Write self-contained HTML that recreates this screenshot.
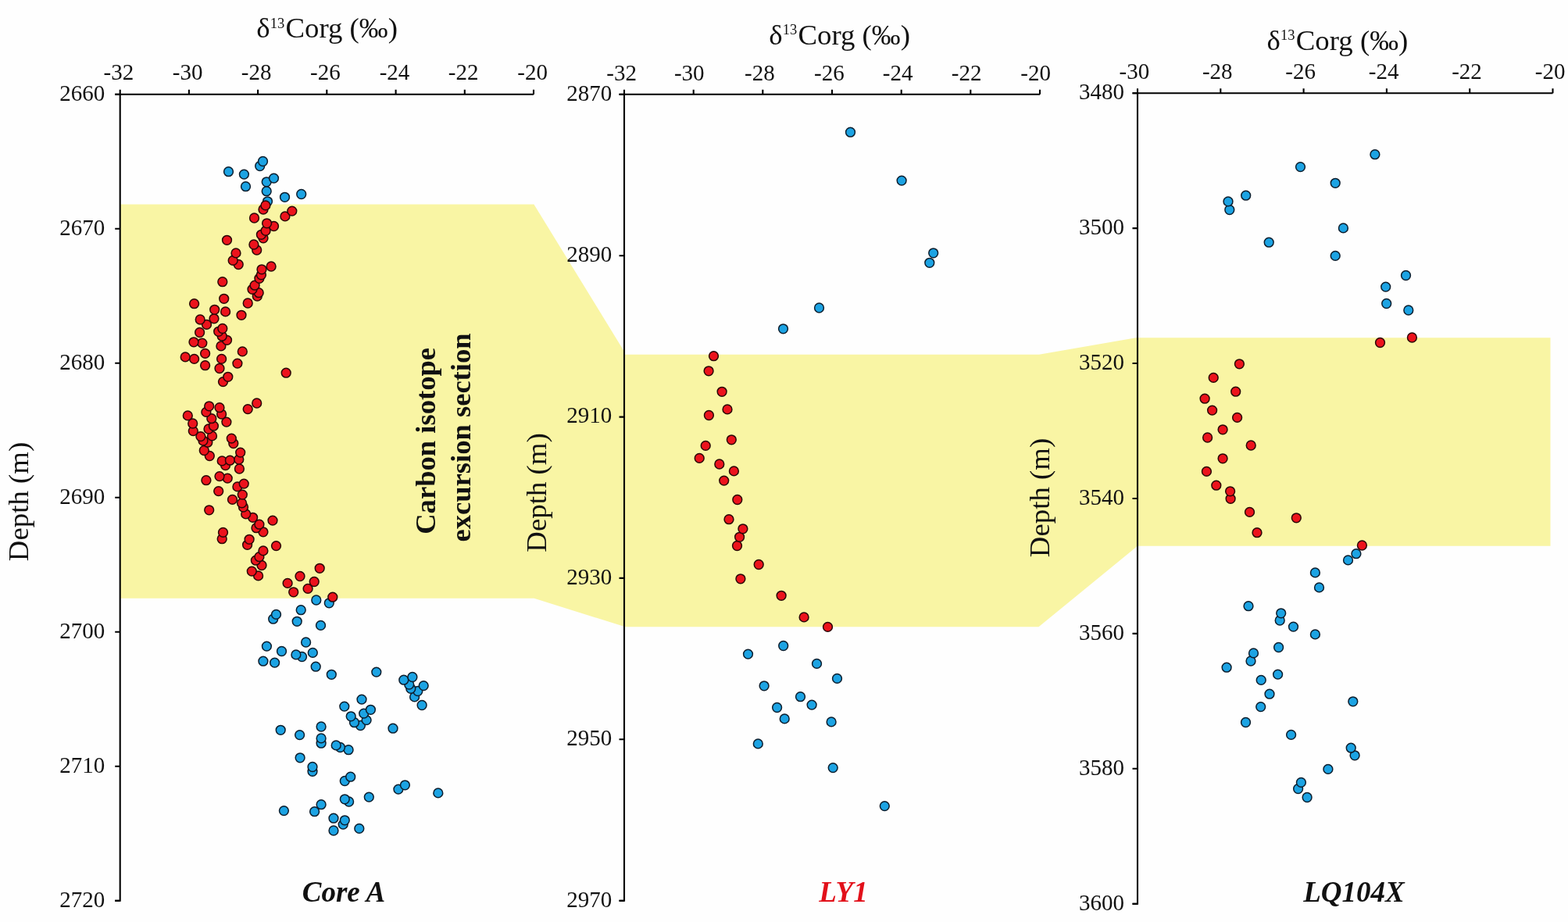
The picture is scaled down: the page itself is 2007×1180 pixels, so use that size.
<!DOCTYPE html>
<html><head><meta charset="utf-8"><title>Carbon isotope excursion</title><style>html,body{margin:0;padding:0;background:#fefefe;width:2007px;height:1180px;overflow:hidden}
svg{display:block}
text{font-family:"Liberation Serif","Times New Roman",serif;fill:#111}
.t{font-size:29px}
.ti{font-size:36.8px}
.sup{font-size:18.5px}
.nm{font-size:37px;font-weight:bold;font-style:italic}
.bt{font-size:36.6px;font-weight:bold}
</style></head><body>
<svg width="2007" height="1180" viewBox="0 0 2007 1180">
<rect width="2007" height="1180" fill="#fefefe"/>
<polygon fill="#f9f5a4" points="153.7,261.4 683.4,261.4 798,448.2 799,453.7 1330,453.7 1454,432.2 1984.5,432.2 1984.5,698.8 1455,698.8 1454.2,700.3 1329.5,802.3 799,802.3 797.1,801.3 683.7,765.8 153.7,765.8"/>
<path d="M147.2 120.8H683.0M153.7 120.8V1152.7H147.2" fill="none" stroke="#000" stroke-width="2.1"/>
<path d="M153.7 120.8V114.8M241.9 120.8V114.8M330.1 120.8V114.8M418.3 120.8V114.8M506.6 120.8V114.8M594.8 120.8V114.8M683.0 120.8V114.8M153.7 120.8H147.2M153.7 292.8H147.2M153.7 464.8H147.2M153.7 636.8H147.2M153.7 808.7H147.2M153.7 980.7H147.2M153.7 1152.7H147.2" fill="none" stroke="#000" stroke-width="2.1"/>
<text class="t" x="151.9" y="102.4" text-anchor="middle">-32</text>
<text class="t" x="240.2" y="102.4" text-anchor="middle">-30</text>
<text class="t" x="328.1" y="102.4" text-anchor="middle">-28</text>
<text class="t" x="416.4" y="102.4" text-anchor="middle">-26</text>
<text class="t" x="505.0" y="102.4" text-anchor="middle">-24</text>
<text class="t" x="593.2" y="102.4" text-anchor="middle">-22</text>
<text class="t" x="681.7" y="102.4" text-anchor="middle">-20</text>
<text class="t" x="134.2" y="128.6" text-anchor="end">2660</text>
<text class="t" x="134.2" y="300.6" text-anchor="end">2670</text>
<text class="t" x="134.2" y="472.6" text-anchor="end">2680</text>
<text class="t" x="134.2" y="644.5" text-anchor="end">2690</text>
<text class="t" x="134.2" y="816.5" text-anchor="end">2700</text>
<text class="t" x="134.2" y="988.5" text-anchor="end">2710</text>
<text class="t" x="134.2" y="1160.5" text-anchor="end">2720</text>
<text class="ti" x="418.6" y="48.4" text-anchor="middle">δ<tspan class="sup" dy="-12.5">13</tspan><tspan dy="12.5" dx="1.3">Corg (‰)</tspan></text>
<text class="ti" transform="translate(36,642) rotate(-90)" text-anchor="middle">Depth (m)</text>
<text class="nm" x="440" y="1154" text-anchor="middle" style="fill:#111">Core A</text>
<path d="M792.5 120.8H1331.0M799.0 120.8V1152.7H792.5" fill="none" stroke="#000" stroke-width="2.1"/>
<path d="M799.0 120.8V114.8M887.7 120.8V114.8M976.3 120.8V114.8M1065.0 120.8V114.8M1153.7 120.8V114.8M1242.3 120.8V114.8M1331.0 120.8V114.8M799.0 120.8H792.5M799.0 327.2H792.5M799.0 533.6H792.5M799.0 739.9H792.5M799.0 946.3H792.5M799.0 1152.7H792.5" fill="none" stroke="#000" stroke-width="2.1"/>
<text class="t" x="795.6" y="102.5" text-anchor="middle">-32</text>
<text class="t" x="882.3" y="102.5" text-anchor="middle">-30</text>
<text class="t" x="972.4" y="102.5" text-anchor="middle">-28</text>
<text class="t" x="1061.4" y="102.5" text-anchor="middle">-26</text>
<text class="t" x="1149.2" y="102.5" text-anchor="middle">-24</text>
<text class="t" x="1237.2" y="102.5" text-anchor="middle">-22</text>
<text class="t" x="1325.7" y="102.5" text-anchor="middle">-20</text>
<text class="t" x="783.2" y="128.6" text-anchor="end">2870</text>
<text class="t" x="783.2" y="335.0" text-anchor="end">2890</text>
<text class="t" x="783.2" y="541.4" text-anchor="end">2910</text>
<text class="t" x="783.2" y="747.7" text-anchor="end">2930</text>
<text class="t" x="783.2" y="954.1" text-anchor="end">2950</text>
<text class="t" x="783.2" y="1160.5" text-anchor="end">2970</text>
<text class="ti" x="1074.6" y="56.6" text-anchor="middle">δ<tspan class="sup" dy="-12.5">13</tspan><tspan dy="12.5" dx="1.3">Corg (‰)</tspan></text>
<text class="ti" transform="translate(699,630.5) rotate(-90)" text-anchor="middle">Depth (m)</text>
<text class="nm" x="1079.5" y="1154" text-anchor="middle" style="fill:#e2101a">LY1</text>
<path d="M1449.5 119.2H1987.5M1456.0 119.2V1156.7H1449.5" fill="none" stroke="#000" stroke-width="2.1"/>
<path d="M1456.0 119.2V113.2M1562.3 119.2V113.2M1668.6 119.2V113.2M1774.9 119.2V113.2M1881.2 119.2V113.2M1987.5 119.2V113.2M1456.0 119.2H1449.5M1456.0 292.1H1449.5M1456.0 465.0H1449.5M1456.0 638.0H1449.5M1456.0 810.9H1449.5M1456.0 983.8H1449.5M1456.0 1156.7H1449.5" fill="none" stroke="#000" stroke-width="2.1"/>
<text class="t" x="1451.9" y="101.4" text-anchor="middle">-30</text>
<text class="t" x="1558.3" y="101.4" text-anchor="middle">-28</text>
<text class="t" x="1664.6" y="101.4" text-anchor="middle">-26</text>
<text class="t" x="1771.1" y="101.4" text-anchor="middle">-24</text>
<text class="t" x="1877.5" y="101.4" text-anchor="middle">-22</text>
<text class="t" x="1984.2" y="101.4" text-anchor="middle">-20</text>
<text class="t" x="1438.9" y="127.0" text-anchor="end">3480</text>
<text class="t" x="1438.9" y="299.9" text-anchor="end">3500</text>
<text class="t" x="1438.9" y="472.8" text-anchor="end">3520</text>
<text class="t" x="1438.9" y="645.8" text-anchor="end">3540</text>
<text class="t" x="1438.9" y="818.7" text-anchor="end">3560</text>
<text class="t" x="1438.9" y="991.6" text-anchor="end">3580</text>
<text class="t" x="1438.9" y="1164.5" text-anchor="end">3600</text>
<text class="ti" x="1711.9" y="63.8" text-anchor="middle">δ<tspan class="sup" dy="-12.5">13</tspan><tspan dy="12.5" dx="1.3">Corg (‰)</tspan></text>
<text class="ti" transform="translate(1343,637) rotate(-90)" text-anchor="middle">Depth (m)</text>
<text class="nm" x="1733" y="1154" text-anchor="middle" style="fill:#111">LQ104X</text>
<text class="bt" transform="translate(557.2,564.4) rotate(-90)" text-anchor="middle">Carbon isotope</text>
<text class="bt" transform="translate(601.6,560) rotate(-90)" text-anchor="middle">excursion section</text>
<g fill="#1ca3e3" stroke="#0c1e2e" stroke-width="1.5"><circle cx="427" cy="1063" r="5.9"/><circle cx="459.8" cy="1060.4" r="5.9"/><circle cx="439.2" cy="1055.1" r="5.9"/><circle cx="441.3" cy="1049.8" r="5.9"/><circle cx="427" cy="1047.2" r="5.9"/><circle cx="402.6" cy="1038.7" r="5.9"/><circle cx="363.4" cy="1037.6" r="5.9"/><circle cx="411.1" cy="1029.7" r="5.9"/><circle cx="446.6" cy="1026" r="5.9"/><circle cx="441.3" cy="1022.8" r="5.9"/><circle cx="472.3" cy="1020.1" r="5.9"/><circle cx="560.8" cy="1014.9" r="5.9"/><circle cx="509.9" cy="1010.1" r="5.9"/><circle cx="518.4" cy="1004.8" r="5.9"/><circle cx="441.3" cy="999.5" r="5.9"/><circle cx="448.7" cy="994.2" r="5.9"/><circle cx="400" cy="987.3" r="5.9"/><circle cx="400" cy="981.5" r="5.9"/><circle cx="384.1" cy="969.8" r="5.9"/><circle cx="446.1" cy="959.7" r="5.9"/><circle cx="435.5" cy="956.5" r="5.9"/><circle cx="430.2" cy="953.9" r="5.9"/><circle cx="411.1" cy="951.2" r="5.9"/><circle cx="411.1" cy="944.9" r="5.9"/><circle cx="383.6" cy="940.6" r="5.9"/><circle cx="359.2" cy="934.3" r="5.9"/><circle cx="503" cy="932.2" r="5.9"/><circle cx="411.1" cy="930" r="5.9"/><circle cx="461.4" cy="928.5" r="5.9"/><circle cx="453.5" cy="924.7" r="5.9"/><circle cx="469.1" cy="921.6" r="5.9"/><circle cx="449.2" cy="916.8" r="5.9"/><circle cx="465.7" cy="913.1" r="5.9"/><circle cx="474.4" cy="908.3" r="5.9"/><circle cx="440.8" cy="904.1" r="5.9"/><circle cx="540.1" cy="902.5" r="5.9"/><circle cx="463" cy="895.1" r="5.9"/><circle cx="530.6" cy="891.9" r="5.9"/><circle cx="534.8" cy="884.5" r="5.9"/><circle cx="525.8" cy="881.3" r="5.9"/><circle cx="542.2" cy="877.6" r="5.9"/><circle cx="523.7" cy="876" r="5.9"/><circle cx="516.8" cy="870.2" r="5.9"/><circle cx="527.9" cy="866.5" r="5.9"/><circle cx="424.3" cy="863.3" r="5.9"/><circle cx="481.8" cy="860.1" r="5.9"/><circle cx="404.2" cy="853.2" r="5.9"/><circle cx="351.6" cy="848.1" r="5.9"/><circle cx="336.9" cy="846.2" r="5.9"/><circle cx="386.5" cy="840.5" r="5.9"/><circle cx="378.9" cy="837.9" r="5.9"/><circle cx="400.3" cy="835.4" r="5.9"/><circle cx="360.5" cy="833.5" r="5.9"/><circle cx="341.4" cy="827.1" r="5.9"/><circle cx="391.6" cy="822" r="5.9"/><circle cx="410.5" cy="800.4" r="5.9"/><circle cx="380.2" cy="795.3" r="5.9"/><circle cx="349.7" cy="792.2" r="5.9"/><circle cx="353.5" cy="786.4" r="5.9"/><circle cx="385.2" cy="780.7" r="5.9"/><circle cx="421.3" cy="771.8" r="5.9"/><circle cx="404.8" cy="768" r="5.9"/><circle cx="342.5" cy="257.8" r="5.9"/><circle cx="364.5" cy="252.3" r="5.9"/><circle cx="385.7" cy="248.5" r="5.9"/><circle cx="341.2" cy="244.7" r="5.9"/><circle cx="314.5" cy="238.7" r="5.9"/><circle cx="341.2" cy="232.8" r="5.9"/><circle cx="350.5" cy="228.1" r="5.9"/><circle cx="312.4" cy="223.1" r="5.9"/><circle cx="292.5" cy="219.7" r="5.9"/><circle cx="332.7" cy="212.5" r="5.9"/><circle cx="336.5" cy="206.5" r="5.9"/></g>
<g fill="#ec131c" stroke="#2a0707" stroke-width="1.5"><circle cx="425.8" cy="764.2" r="5.9"/><circle cx="375.7" cy="757.8" r="5.9"/><circle cx="394.1" cy="753.4" r="5.9"/><circle cx="368.1" cy="746.4" r="5.9"/><circle cx="402.2" cy="744.5" r="5.9"/><circle cx="384" cy="737.5" r="5.9"/><circle cx="330.6" cy="736.9" r="5.9"/><circle cx="322.3" cy="731.1" r="5.9"/><circle cx="409.2" cy="727.3" r="5.9"/><circle cx="335" cy="723.5" r="5.9"/><circle cx="327.4" cy="717.2" r="5.9"/><circle cx="331.9" cy="712.7" r="5.9"/><circle cx="336.9" cy="704.9" r="5.9"/><circle cx="353.5" cy="698.6" r="5.9"/><circle cx="316.6" cy="697.3" r="5.9"/><circle cx="319.1" cy="690.3" r="5.9"/><circle cx="284.2" cy="689.7" r="5.9"/><circle cx="285.5" cy="681.4" r="5.9"/><circle cx="336.9" cy="680.8" r="5.9"/><circle cx="328" cy="675.7" r="5.9"/><circle cx="331.9" cy="671.2" r="5.9"/><circle cx="349" cy="666.1" r="5.9"/><circle cx="323.6" cy="662.3" r="5.9"/><circle cx="314.7" cy="657.9" r="5.9"/><circle cx="267.7" cy="652.8" r="5.9"/><circle cx="311.5" cy="649" r="5.9"/><circle cx="309.6" cy="643.9" r="5.9"/><circle cx="297.5" cy="639.4" r="5.9"/><circle cx="310.3" cy="633.1" r="5.9"/><circle cx="279.7" cy="628.6" r="5.9"/><circle cx="303.9" cy="622.9" r="5.9"/><circle cx="312.2" cy="619.1" r="5.9"/><circle cx="263.9" cy="614.7" r="5.9"/><circle cx="291.2" cy="612.1" r="5.9"/><circle cx="281" cy="609.6" r="5.9"/><circle cx="306.4" cy="600" r="5.9"/><circle cx="288.6" cy="595.6" r="5.9"/><circle cx="284.2" cy="589.9" r="5.9"/><circle cx="294.4" cy="589.2" r="5.9"/><circle cx="305.8" cy="588" r="5.9"/><circle cx="268.3" cy="583.5" r="5.9"/><circle cx="307.7" cy="579.1" r="5.9"/><circle cx="261.3" cy="576.5" r="5.9"/><circle cx="298.8" cy="567.5" r="5.9"/><circle cx="265.8" cy="566.2" r="5.9"/><circle cx="260" cy="564" r="5.9"/><circle cx="296.3" cy="561.1" r="5.9"/><circle cx="256.9" cy="558.6" r="5.9"/><circle cx="271.5" cy="557.9" r="5.9"/><circle cx="247.3" cy="551.6" r="5.9"/><circle cx="267" cy="549" r="5.9"/><circle cx="273.4" cy="545.2" r="5.9"/><circle cx="246.7" cy="542" r="5.9"/><circle cx="289.9" cy="540.1" r="5.9"/><circle cx="270.8" cy="535.7" r="5.9"/><circle cx="240.3" cy="531.9" r="5.9"/><circle cx="283.6" cy="530" r="5.9"/><circle cx="263.9" cy="527.4" r="5.9"/><circle cx="317.2" cy="523.6" r="5.9"/><circle cx="281" cy="521.7" r="5.9"/><circle cx="267.7" cy="519.8" r="5.9"/><circle cx="328.7" cy="516" r="5.9"/><circle cx="285.5" cy="488.6" r="5.9"/><circle cx="291.8" cy="482.3" r="5.9"/><circle cx="366.2" cy="477.2" r="5.9"/><circle cx="281" cy="471.5" r="5.9"/><circle cx="262.6" cy="467.7" r="5.9"/><circle cx="303.9" cy="465.1" r="5.9"/><circle cx="248.6" cy="459.4" r="5.9"/><circle cx="283.6" cy="459.4" r="5.9"/><circle cx="237.2" cy="456.9" r="5.9"/><circle cx="262.6" cy="452.4" r="5.9"/><circle cx="310.3" cy="449.9" r="5.9"/><circle cx="282.9" cy="442.9" r="5.9"/><circle cx="258.8" cy="439.1" r="5.9"/><circle cx="248" cy="437.8" r="5.9"/><circle cx="290.5" cy="435.3" r="5.9"/><circle cx="284.2" cy="430.2" r="5.9"/><circle cx="255.6" cy="425.5" r="5.9"/><circle cx="279.7" cy="424.3" r="5.9"/><circle cx="284.8" cy="420.5" r="5.9"/><circle cx="264.5" cy="415.4" r="5.9"/><circle cx="256.2" cy="409" r="5.9"/><circle cx="274" cy="407.8" r="5.9"/><circle cx="309" cy="403.3" r="5.9"/><circle cx="288.6" cy="398.9" r="5.9"/><circle cx="274.7" cy="396.3" r="5.9"/><circle cx="248.6" cy="388.7" r="5.9"/><circle cx="317.2" cy="388" r="5.9"/><circle cx="286.7" cy="382.3" r="5.9"/><circle cx="329.3" cy="379.1" r="5.9"/><circle cx="331.2" cy="374.7" r="5.9"/><circle cx="323" cy="370.3" r="5.9"/><circle cx="326.1" cy="365.2" r="5.9"/><circle cx="284.8" cy="360.7" r="5.9"/><circle cx="331.9" cy="356.3" r="5.9"/><circle cx="334.4" cy="351.8" r="5.9"/><circle cx="335" cy="344.8" r="5.9"/><circle cx="347.1" cy="341" r="5.9"/><circle cx="305.2" cy="338.5" r="5.9"/><circle cx="298.2" cy="333.4" r="5.9"/><circle cx="302" cy="323.9" r="5.9"/><circle cx="328.7" cy="320" r="5.9"/><circle cx="324.9" cy="313" r="5.9"/><circle cx="290.5" cy="307.3" r="5.9"/><circle cx="337" cy="304.8" r="5.9"/><circle cx="334.4" cy="300.3" r="5.9"/><circle cx="340.1" cy="295.3" r="5.9"/><circle cx="350.5" cy="289.5" r="5.9"/><circle cx="341.6" cy="285.8" r="5.9"/><circle cx="325.5" cy="279" r="5.9"/><circle cx="364.9" cy="276.9" r="5.9"/><circle cx="373.8" cy="270.1" r="5.9"/><circle cx="337" cy="268" r="5.9"/><circle cx="339.9" cy="262.9" r="5.9"/></g>
<g fill="#1ca3e3" stroke="#0c1e2e" stroke-width="1.5"><circle cx="1132.3" cy="1031.6" r="5.9"/><circle cx="1066.2" cy="982.6" r="5.9"/><circle cx="970.3" cy="951.9" r="5.9"/><circle cx="1064.1" cy="923.9" r="5.9"/><circle cx="1004.2" cy="919.9" r="5.9"/><circle cx="994.6" cy="905.5" r="5.9"/><circle cx="1039.1" cy="902.1" r="5.9"/><circle cx="1024.5" cy="891.7" r="5.9"/><circle cx="978.1" cy="877.8" r="5.9"/><circle cx="1071.5" cy="868.4" r="5.9"/><circle cx="1045.5" cy="849.4" r="5.9"/><circle cx="957.5" cy="837.1" r="5.9"/><circle cx="1002.7" cy="826.5" r="5.9"/><circle cx="1002.5" cy="420.8" r="5.9"/><circle cx="1048.5" cy="394" r="5.9"/><circle cx="1189.8" cy="336.3" r="5.9"/><circle cx="1194.7" cy="323.8" r="5.9"/><circle cx="1154.1" cy="231.1" r="5.9"/><circle cx="1088.5" cy="169.2" r="5.9"/></g>
<g fill="#ec131c" stroke="#2a0707" stroke-width="1.5"><circle cx="1059.5" cy="802.4" r="5.9"/><circle cx="1029.1" cy="789.9" r="5.9"/><circle cx="1000.1" cy="762.3" r="5.9"/><circle cx="947.9" cy="740.8" r="5.9"/><circle cx="971.2" cy="722.5" r="5.9"/><circle cx="943.5" cy="698.5" r="5.9"/><circle cx="946.6" cy="687.3" r="5.9"/><circle cx="950.9" cy="676.8" r="5.9"/><circle cx="933" cy="664.7" r="5.9"/><circle cx="943.8" cy="639.5" r="5.9"/><circle cx="926.7" cy="615.1" r="5.9"/><circle cx="939.4" cy="602.9" r="5.9"/><circle cx="920.8" cy="594" r="5.9"/><circle cx="895.2" cy="586.4" r="5.9"/><circle cx="903.2" cy="570.4" r="5.9"/><circle cx="936.3" cy="562.8" r="5.9"/><circle cx="907.4" cy="531.5" r="5.9"/><circle cx="931" cy="523.9" r="5.9"/><circle cx="924.1" cy="501.3" r="5.9"/><circle cx="907.1" cy="474.8" r="5.9"/><circle cx="913.5" cy="455.7" r="5.9"/></g>
<g fill="#1ca3e3" stroke="#0c1e2e" stroke-width="1.5"><circle cx="1673.1" cy="1020.5" r="5.9"/><circle cx="1661.6" cy="1009.5" r="5.9"/><circle cx="1665.4" cy="1001.4" r="5.9"/><circle cx="1699.9" cy="984.4" r="5.9"/><circle cx="1734.1" cy="966.8" r="5.9"/><circle cx="1729.2" cy="957.2" r="5.9"/><circle cx="1652.6" cy="940.4" r="5.9"/><circle cx="1594.5" cy="924.5" r="5.9"/><circle cx="1613.7" cy="904.6" r="5.9"/><circle cx="1731.8" cy="897.8" r="5.9"/><circle cx="1625" cy="888.2" r="5.9"/><circle cx="1614.2" cy="870.4" r="5.9"/><circle cx="1635.6" cy="863.1" r="5.9"/><circle cx="1570.1" cy="854.2" r="5.9"/><circle cx="1601" cy="846" r="5.9"/><circle cx="1604.5" cy="835.9" r="5.9"/><circle cx="1636.6" cy="828.5" r="5.9"/><circle cx="1683.4" cy="811.9" r="5.9"/><circle cx="1655.5" cy="802.1" r="5.9"/><circle cx="1638.2" cy="794" r="5.9"/><circle cx="1639.7" cy="784.8" r="5.9"/><circle cx="1598" cy="775.7" r="5.9"/><circle cx="1688.5" cy="751.9" r="5.9"/><circle cx="1683.4" cy="732.9" r="5.9"/><circle cx="1725.5" cy="716.9" r="5.9"/><circle cx="1735.9" cy="708.7" r="5.9"/><circle cx="1802.8" cy="397" r="5.9"/><circle cx="1774.7" cy="388.5" r="5.9"/><circle cx="1773.7" cy="367.1" r="5.9"/><circle cx="1799.5" cy="352.5" r="5.9"/><circle cx="1709.2" cy="327.4" r="5.9"/><circle cx="1624.2" cy="310.2" r="5.9"/><circle cx="1719.4" cy="291.9" r="5.9"/><circle cx="1573.8" cy="268.5" r="5.9"/><circle cx="1572" cy="257.9" r="5.9"/><circle cx="1594.7" cy="250.2" r="5.9"/><circle cx="1709.2" cy="234.3" r="5.9"/><circle cx="1664.5" cy="213.6" r="5.9"/><circle cx="1759.9" cy="197.7" r="5.9"/></g>
<g fill="#ec131c" stroke="#2a0707" stroke-width="1.5"><circle cx="1743.4" cy="698" r="5.9"/><circle cx="1609" cy="681.7" r="5.9"/><circle cx="1659.3" cy="662.8" r="5.9"/><circle cx="1599.5" cy="655.4" r="5.9"/><circle cx="1575.1" cy="638.3" r="5.9"/><circle cx="1574.6" cy="628.8" r="5.9"/><circle cx="1556.8" cy="621.2" r="5.9"/><circle cx="1544.4" cy="603.4" r="5.9"/><circle cx="1565.1" cy="586.8" r="5.9"/><circle cx="1601.2" cy="570" r="5.9"/><circle cx="1545.6" cy="560" r="5.9"/><circle cx="1565.1" cy="549.8" r="5.9"/><circle cx="1583.6" cy="534.4" r="5.9"/><circle cx="1551.6" cy="525.1" r="5.9"/><circle cx="1542.1" cy="510.2" r="5.9"/><circle cx="1581.7" cy="501.2" r="5.9"/><circle cx="1553.2" cy="483.4" r="5.9"/><circle cx="1586.4" cy="465.8" r="5.9"/><circle cx="1766.5" cy="438.5" r="5.9"/><circle cx="1807.4" cy="432" r="5.9"/></g>
</svg>
</body></html>
